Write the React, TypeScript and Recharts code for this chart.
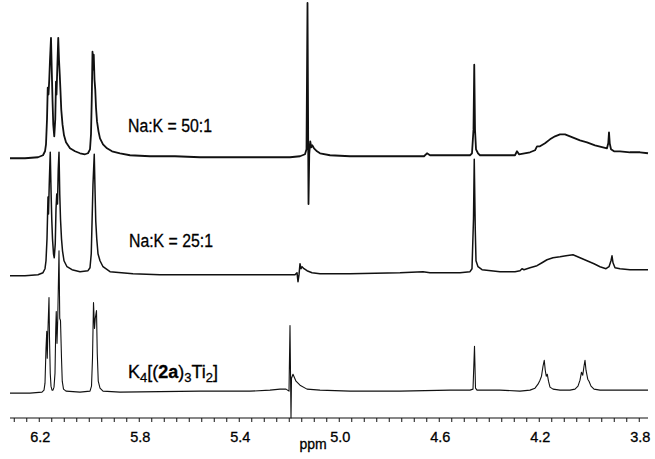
import React from 'react';
import { LineChart, Line, XAxis, YAxis } from 'recharts';

type Pt = [number, number];

// [ppm, intensity above own baseline]
const TRACE_50_1: Pt[] = [
  [6.317, -1], [6.257, -1], [6.205, 0], [6.185, 2], [6.177, 6], [6.173, 13], [6.169, 38],
  [6.166, 70], [6.163, 63], [6.160, 78], [6.157, 98], [6.153, 120], [6.150, 88], [6.147, 58],
  [6.144, 33], [6.140, 21], [6.136, 38], [6.133, 76], [6.131, 63], [6.128, 88], [6.124, 120],
  [6.121, 98], [6.118, 83], [6.115, 66], [6.112, 48], [6.107, 33], [6.101, 22], [6.093, 15],
  [6.077, 9], [6.057, 6], [6.037, 4], [6.017, 3], [6.005, 4], [5.997, 8], [5.993, 23],
  [5.990, 58], [5.987, 106], [5.984, 88], [5.982, 103], [5.979, 78], [5.976, 68], [5.973, 50],
  [5.969, 36], [5.963, 26], [5.957, 19], [5.945, 13], [5.929, 9], [5.909, 6], [5.877, 4],
  [5.837, 2], [5.757, 1], [5.657, 1], [5.557, 0], [5.437, 0], [5.317, 0], [5.197, 0],
  [5.157, 1], [5.137, 3], [5.131, 8], [5.127, 155], [5.123, -47], [5.120, 3], [5.116, 16],
  [5.112, 10], [5.108, 12], [5.101, 9], [5.089, 6], [5.077, 4], [5.037, 2], [4.957, 1],
  [4.757, 1], [4.661, 1], [4.649, 4], [4.637, 2], [4.517, 2], [4.477, 2], [4.469, 4],
  [4.463, 28], [4.460, 93], [4.457, 28], [4.453, 8], [4.445, 4], [4.437, 2], [4.357, 2],
  [4.297, 2], [4.289, 6], [4.281, 3], [4.237, 5], [4.217, 7], [4.209, 11], [4.197, 11],
  [4.177, 14], [4.157, 18], [4.137, 21], [4.117, 23], [4.097, 23], [4.077, 21], [4.057, 19],
  [4.037, 17], [4.009, 15], [3.977, 12], [3.945, 10], [3.929, 9], [3.924, 14], [3.921, 25],
  [3.918, 14], [3.913, 8], [3.901, 6], [3.877, 6], [3.837, 5], [3.797, 5], [3.765, 4],
];

const TRACE_25_1: Pt[] = [
  [6.317, -1], [6.257, -1], [6.205, 0], [6.185, 2], [6.177, 6], [6.173, 14], [6.169, 36],
  [6.165, 78], [6.163, 61], [6.160, 91], [6.156, 123], [6.153, 86], [6.150, 56], [6.147, 36],
  [6.143, 21], [6.140, 17], [6.136, 31], [6.133, 66], [6.130, 81], [6.127, 71], [6.124, 106],
  [6.121, 123], [6.118, 81], [6.115, 56], [6.111, 36], [6.107, 24], [6.101, 14], [6.089, 8],
  [6.069, 5], [6.037, 3], [6.005, 4], [5.997, 7], [5.992, 21], [5.988, 61], [5.985, 91],
  [5.980, 121], [5.977, 86], [5.974, 54], [5.970, 36], [5.965, 21], [5.957, 14], [5.945, 8],
  [5.917, 3], [5.825, 1], [5.717, 0], [5.557, 0], [5.357, 0], [5.237, 0], [5.177, 0],
  [5.169, 2], [5.165, -7], [5.161, 0], [5.157, 11], [5.153, 6], [5.149, 8], [5.141, 6],
  [5.129, 4], [5.109, 2], [5.077, 1], [4.957, 1], [4.757, 2], [4.665, 3], [4.637, 2],
  [4.517, 2], [4.477, 3], [4.469, 6], [4.463, 56], [4.460, 116], [4.456, 46], [4.453, 14],
  [4.445, 8], [4.429, 5], [4.357, 3], [4.297, 3], [4.277, 4], [4.269, 6], [4.261, 5],
  [4.237, 7], [4.209, 9], [4.189, 12], [4.169, 15], [4.145, 17], [4.117, 18], [4.093, 19],
  [4.065, 20], [4.037, 17], [4.009, 14], [3.981, 11], [3.957, 8], [3.933, 6], [3.921, 8],
  [3.913, 14], [3.909, 19], [3.905, 12], [3.897, 7], [3.877, 6], [3.837, 5], [3.765, 5],
];

const TRACE_K4: Pt[] = [
  [6.317, -1], [6.237, -1], [6.189, 0], [6.181, 2], [6.177, 9], [6.173, 44], [6.170, 61],
  [6.168, 34], [6.165, 64], [6.161, 95], [6.159, 54], [6.156, 19], [6.153, 6], [6.149, 2],
  [6.145, 2], [6.141, 5], [6.137, 19], [6.134, 64], [6.132, 81], [6.129, 49], [6.126, 74],
  [6.121, 142], [6.118, 74], [6.115, 72], [6.111, 34], [6.108, 11], [6.103, 3], [6.093, 1],
  [6.037, 0], [5.997, 1], [5.991, 6], [5.987, 34], [5.983, 90], [5.979, 64], [5.976, 74],
  [5.971, 82], [5.968, 39], [5.964, 11], [5.957, 4], [5.945, 1], [5.877, 0], [5.557, 1],
  [5.357, 1], [5.277, 2], [5.237, 3], [5.213, 3], [5.201, 1], [5.197, 67], [5.193, -26],
  [5.191, 14], [5.185, 18], [5.173, 11], [5.157, 7], [5.129, 3], [5.077, 2], [4.957, 1],
  [4.757, 1], [4.557, 2], [4.477, 2], [4.465, 3], [4.459, 46], [4.455, 4], [4.449, 2],
  [4.357, 2], [4.277, 1], [4.237, 2], [4.217, 4], [4.205, 8], [4.197, 12], [4.191, 16],
  [4.185, 26], [4.180, 32], [4.176, 22], [4.172, 16], [4.168, 18], [4.163, 11], [4.157, 5],
  [4.145, 3], [4.117, 2], [4.077, 2], [4.057, 3], [4.045, 6], [4.037, 12], [4.031, 20],
  [4.026, 17], [4.021, 26], [4.017, 32], [4.013, 22], [4.006, 13], [4.001, 11], [3.993, 6],
  [3.981, 3], [3.957, 2], [3.877, 2], [3.765, 2],
];

const MAJOR_TICKS = [6.2, 5.8, 5.4, 5.0, 4.6, 4.2, 3.8];
const X_DOMAIN: [number, number] = [3.765, 6.317];
const X_LABEL = 'ppm';
const TRACE_LABELS = ['Na:K = 50:1', 'Na:K = 25:1'];

// layout
const W = 655;
const H = 459;
const AXIS_H = 41;
const PLOT_H = H - AXIS_H; // 418
const OFFSETS = { top: 260, mid: 142, bot: 24 };
const FONT = '"Liberation Sans", Arial, Helvetica, sans-serif';

const minorTicks: number[] = [];
for (let k = 630; k >= 380; k -= 5) minorTicks.push(k / 100);

const toRows = (pts: Pt[], off: number) => pts.map(([ppm, v]) => ({ ppm, v: v + off }));

const Tick = (props: any) => {
  const { x, payload } = props;
  const v = payload.value as number;
  const isMajor = MAJOR_TICKS.some((m) => Math.abs(m - v) < 1e-6);
  if (!isMajor) return <g />;
  return (
    <text x={x + 1} y={PLOT_H + 24} textAnchor="middle" fontSize={14.5} fontFamily={FONT} fill="#000" stroke="#000" strokeWidth={0.3}>
      {v.toFixed(1)}
    </text>
  );
};

export default function App() {
  return (
    <div style={{ position: 'absolute', left: 0, top: 0, width: W, height: H, background: '#fff' }}>
      <LineChart width={W} height={H} margin={{ top: 0, right: 7, bottom: 0, left: 10 }}>
        <XAxis
          dataKey="ppm"
          type="number"
          domain={X_DOMAIN}
          reversed
          ticks={minorTicks}
          interval={0}
          tick={<Tick />}
          tickSize={4}
          tickLine={{ stroke: '#111', strokeWidth: 1 }}
          axisLine={{ stroke: '#111', strokeWidth: 1.2 }}
          height={AXIS_H}
          allowDataOverflow={false}
        />
        <YAxis type="number" domain={[0, PLOT_H]} hide />
        <Line
          data={toRows(TRACE_50_1, OFFSETS.top)}
          dataKey="v"
          type="linear"
          stroke="#111"
          strokeWidth={1.8}
          dot={false}
          activeDot={false}
          isAnimationActive={false}
          strokeLinejoin="round"
        />
        <Line
          data={toRows(TRACE_25_1, OFFSETS.mid)}
          dataKey="v"
          type="linear"
          stroke="#111"
          strokeWidth={1.5}
          dot={false}
          activeDot={false}
          isAnimationActive={false}
          strokeLinejoin="round"
        />
        <Line
          data={toRows(TRACE_K4, OFFSETS.bot)}
          dataKey="v"
          type="linear"
          stroke="#111"
          strokeWidth={1.1}
          dot={false}
          activeDot={false}
          isAnimationActive={false}
          strokeLinejoin="round"
        />
      </LineChart>
      <svg
        width={W}
        height={H}
        style={{ position: 'absolute', left: 0, top: 0, pointerEvents: 'none' }}
      >
        <g fontFamily={FONT} fill="#000" stroke="#000" strokeWidth={0.3}>
          <text x={128} y={132} fontSize={18} textLength={84} lengthAdjust="spacingAndGlyphs">
            {TRACE_LABELS[0]}
          </text>
          <text x={129} y={247} fontSize={18} textLength={84} lengthAdjust="spacingAndGlyphs">
            {TRACE_LABELS[1]}
          </text>
          <text x={128} y={378} fontSize={18}>
            K<tspan fontSize={13} dy={4}>4</tspan>
            <tspan dy={-4}>[(</tspan>
            <tspan fontWeight="bold">2a</tspan>
            <tspan>)</tspan>
            <tspan fontSize={13} dy={4}>3</tspan>
            <tspan dy={-4}>Ti</tspan>
            <tspan fontSize={13} dy={4}>2</tspan>
            <tspan dy={-4}>]</tspan>
          </text>
          <text x={313} y={449} fontSize={14} textAnchor="middle">
            {X_LABEL}
          </text>
        </g>
      </svg>
    </div>
  );
}
